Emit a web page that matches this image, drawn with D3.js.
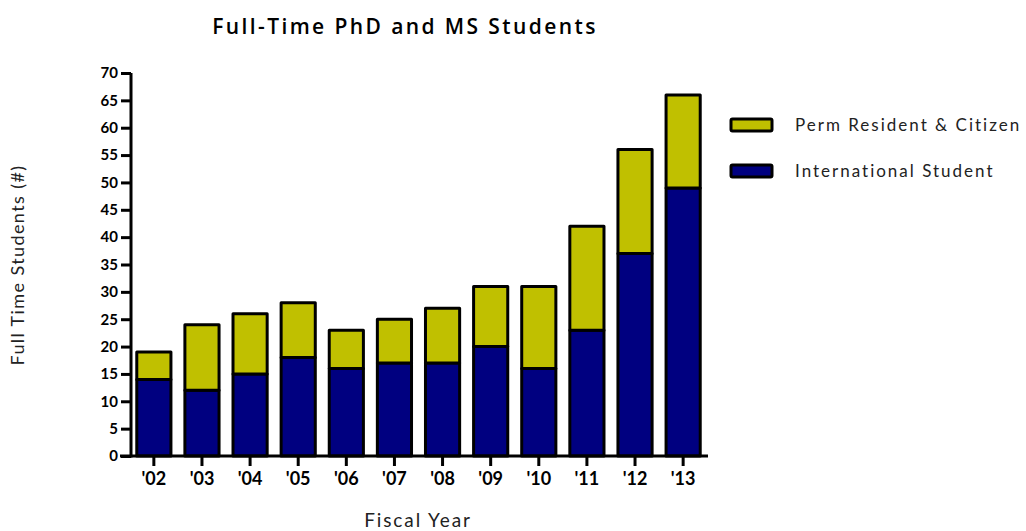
<!DOCTYPE html>
<html>
<head>
<meta charset="utf-8">
<script src="https://cdn.jsdelivr.net/npm/d3@7"></script>
<style>
  body { margin: 0; background: #fff; }
  svg { display: block; }
  .tick text { font-family: "Lato", "DejaVu Sans", sans-serif; font-weight: bold; font-size: 15px; fill: #000; }
</style>
</head>
<body>
<div id="chart"></div>
<script>
// Chart data
const years = ["'02", "'03", "'04", "'05", "'06", "'07", "'08", "'09", "'10", "'11", "'12", "'13"];
const international = [14, 12, 15, 18, 16, 17, 17, 20, 16, 23, 37, 49];
const permResident = [5, 12, 11, 10, 7, 8, 10, 11, 15, 19, 19, 17];
const seriesNames = ['Perm Resident & Citizen', 'International Student'];
const seriesColors = ['#c0c000', '#000080'];
const yTicks = d3.range(0, 71, 5);

const width = 1026, height = 531;
const svg = d3.select('#chart').append('svg')
  .attr('width', width)
  .attr('height', height);

// Plot area
const xScale = d3.scaleBand()
  .domain(years)
  .range([131, 706])
  .paddingInner(0.29)
  .paddingOuter(0.12);

const yScale = d3.scaleLinear()
  .domain([0, 70])
  .range([456, 73]);

// Build the stacked data
const rows = years.map((y, i) => ({ year: y, intl: international[i], perm: permResident[i] }));
const stack = d3.stack().keys(['intl', 'perm'])(rows);

const barGroup = svg.append('g').attr('class', 'bars');
stack.forEach((layer, li) => {
  barGroup.selectAll('.layer-' + li)
    .data(layer)
    .enter()
    .append('rect')
      .attr('class', 'layer-' + li)
      .attr('x', (d) => xScale(d.data.year))
      .attr('y', (d) => yScale(d[1]))
      .attr('width', xScale.bandwidth())
      .attr('height', (d) => yScale(d[0]) - yScale(d[1]))
      .style('fill', li === 0 ? seriesColors[1] : seriesColors[0])
      .style('stroke', '#000')
      .style('stroke-width', 3)
      .style('stroke-linejoin', 'round');
});

// Axes
const yAxis = svg.append('g')
  .attr('transform', 'translate(131,0)')
  .call(d3.axisLeft(yScale).tickValues(yTicks).tickSize(10).tickPadding(3));
yAxis.select('.domain').attr('d', 'M0,' + yScale(70) + 'V' + (yScale(0) + 1.5))
  .style('stroke-width', 3);
yAxis.selectAll('.tick line').style('stroke-width', 3);

const xAxis = svg.append('g')
  .attr('transform', 'translate(0,' + yScale(0) + ')')
  .call(d3.axisBottom(xScale).tickSize(10).tickPadding(6));
xAxis.select('.domain').attr('d', 'M120,0H708').style('stroke-width', 3);
xAxis.selectAll('.tick line').style('stroke-width', 3);
xAxis.selectAll('.tick text').style('font-size', '18px');

// Titles
svg.append('text')
  .attr('x', 405)
  .attr('y', 34)
  .attr('text-anchor', 'middle')
  .style('font-family', '"Open Sans", "DejaVu Sans", sans-serif')
  .style('font-weight', 600)
  .style('font-size', '21px')
  .style('letter-spacing', '2.4px')
  .text('Full-Time PhD and MS Students');

svg.append('text')
  .attr('transform', 'translate(24,265) rotate(-90)')
  .attr('text-anchor', 'middle')
  .style('font-family', '"Lato", "DejaVu Sans", sans-serif')
  .style('font-size', '18px')
  .style('letter-spacing', '1.4px')
  .style('fill', '#222')
  .text('Full Time Students (#)');

svg.append('text')
  .attr('x', 418)
  .attr('y', 527)
  .attr('text-anchor', 'middle')
  .style('font-family', '"Lato", "DejaVu Sans", sans-serif')
  .style('font-size', '19px')
  .style('letter-spacing', '1.9px')
  .style('fill', '#222')
  .text('Fiscal Year');

// Legend
const legend = svg.append('g').attr('class', 'legend');
seriesNames.forEach((name, i) => {
  const ly = 125 + i * 46;
  legend.append('rect')
    .attr('x', 731)
    .attr('y', ly - 6)
    .attr('width', 41)
    .attr('height', 12)
    .attr('rx', 1.5)
    .style('fill', seriesColors[i])
    .style('stroke', '#000')
    .style('stroke-width', 3);
  legend.append('text')
    .attr('x', 795)
    .attr('y', ly + 6)
    .style('font-family', '"Lato", "DejaVu Sans", sans-serif')
    .style('font-size', '17px')
    .style('letter-spacing', '2px')
    .style('fill', '#222')
    .text(name);
});
</script>
</body>
</html>
